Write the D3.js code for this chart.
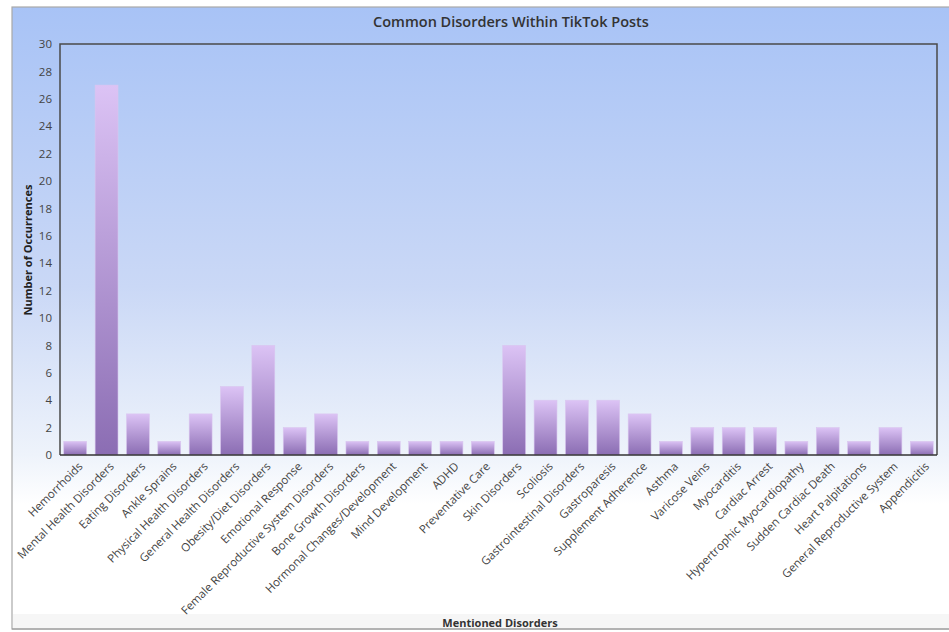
<!DOCTYPE html>
<html>
<head>
<meta charset="utf-8">
<script src="https://cdn.jsdelivr.net/npm/d3@7"></script>
<style>
  body { margin: 0; background: #fff; }
  svg text { font-family: "Open Sans", "Noto Sans", sans-serif; }
</style>
</head>
<body>
<div class="chart"></div>
<script>
// chart data
var disorders = ["Hemorrhoids", "Mental Health Disorders", "Eating Disorders", "Ankle Sprains",
  "Physical Health Disorders", "General Health Disorders", "Obesity/Diet Disorders", "Emotional Response",
  "Female Reproductive System Disorders", "Bone Growth Disorders", "Hormonal Changes/Development",
  "Mind Development", "ADHD", "Preventative Care", "Skin Disorders", "Scoliosis",
  "Gastrointestinal Disorders", "Gastroparesis", "Supplement Adherence", "Asthma", "Varicose Veins",
  "Myocarditis", "Cardiac Arrest", "Hypertrophic Myocardiopathy", "Sudden Cardiac Death",
  "Heart Palpitations", "General Reproductive System", "Appendicitis"];
var occurrences = [1, 27, 3, 1, 3, 5, 8, 2, 3, 1, 1, 1, 1, 1, 8, 4, 4, 4, 3, 1, 2, 2, 2, 1, 2, 1, 2, 1];
var yTicks = [0, 2, 4, 6, 8, 10, 12, 14, 16, 18, 20, 22, 24, 26, 28, 30];

var svgWidth = 949;
var svgHeight = 632;

var margin = { top: 44, right: 7, bottom: 177, left: 60 };
var width = svgWidth - margin.left - margin.right;
var height = svgHeight - margin.top - margin.bottom;

var svg = d3.select(".chart")
  .append("svg")
  .attr("width", svgWidth)
  .attr("height", svgHeight);

var defs = svg.append("defs");

// panel background
var bg = defs.append("linearGradient")
  .attr("id", "bgGrad")
  .attr("x1", 0).attr("y1", 0).attr("x2", 0).attr("y2", 1);
bg.append("stop").attr("offset", "0%").attr("stop-color", "#a8c3f6");
bg.append("stop").attr("offset", "45%").attr("stop-color", "#cad8f6");
bg.append("stop").attr("offset", "72%").attr("stop-color", "#eef3fb");
bg.append("stop").attr("offset", "80%").attr("stop-color", "#ffffff");
bg.append("stop").attr("offset", "100%").attr("stop-color", "#ffffff");

var barGrad = defs.append("linearGradient")
  .attr("id", "barGrad")
  .attr("x1", 0).attr("y1", 0).attr("x2", 0).attr("y2", 1);
barGrad.append("stop").attr("offset", "0%").attr("stop-color", "#dcc3f5");
barGrad.append("stop").attr("offset", "100%").attr("stop-color", "#8b6db3");

svg.append("rect")
  .attr("x", 12).attr("y", 7)
  .attr("width", 940).attr("height", 622)
  .attr("fill", "url(#bgGrad)")
  .attr("stroke", "#a9a9a9")
  .attr("stroke-width", 1.2);

svg.append("rect")
  .attr("x", 13).attr("y", 614)
  .attr("width", 938).attr("height", 14)
  .attr("fill", "#f6f6f6");

// title
svg.append("text")
  .attr("x", 511)
  .attr("y", 27)
  .attr("text-anchor", "middle")
  .style("font-size", "14.5px")
  .style("font-weight", "600")
  .style("fill", "#333")
  .text("Common Disorders Within TikTok Posts");

var chartGroup = svg.append("g")
  .attr("transform", `translate(${margin.left}, ${margin.top})`);

var xBandScale = d3.scaleBand()
  .domain(disorders)
  .range([0, width - 5])
  .paddingInner(0.27)
  .paddingOuter(0.12);

var yLinearScale = d3.scaleLinear()
  .domain([0, 30])
  .range([height, 0]);

// bars
chartGroup.selectAll(".bar")
  .data(occurrences)
  .enter()
  .append("rect")
  .attr("class", "bar")
  .attr("x", (d, i) => xBandScale(disorders[i]))
  .attr("y", d => yLinearScale(d))
  .attr("width", xBandScale.bandwidth())
  .attr("height", d => height - yLinearScale(d))
  .attr("fill", "url(#barGrad)")
  .attr("stroke", "#d9c6ef")
  .attr("stroke-width", 0.6);

// frame
chartGroup.append("path")
  .attr("d", `M0,${height}V0H${width - 5}V${height}`)
  .attr("fill", "none")
  .attr("stroke", "#4a4a4a")
  .attr("stroke-width", 1.5);
chartGroup.append("line")
  .attr("x1", 0).attr("x2", width - 5)
  .attr("y1", height).attr("y2", height)
  .attr("stroke", "#333")
  .attr("stroke-width", 1.5);

// y axis
var leftAxis = d3.axisLeft(yLinearScale)
  .tickValues(yTicks)
  .tickSize(0)
  .tickPadding(8);
var yAxis = chartGroup.append("g").call(leftAxis);
yAxis.select(".domain").remove();
yAxis.selectAll("text")
  .style("font-size", "11.5px")
  .style("fill", "#444");

// x axis
var bottomAxis = d3.axisBottom(xBandScale).tickSize(0);
var xAxis = chartGroup.append("g")
  .attr("transform", `translate(0, ${height})`)
  .call(bottomAxis);
xAxis.select(".domain").remove();
xAxis.selectAll("text")
  .attr("text-anchor", "end")
  .attr("dy", "0")
  .attr("transform", "translate(6, 10) rotate(-45)")
  .style("font-size", "11.5px")
  .style("fill", "#444");

// axis titles
svg.append("text")
  .attr("transform", "rotate(-90)")
  .attr("x", -250)
  .attr("y", 32)
  .attr("text-anchor", "middle")
  .style("font-size", "11px")
  .style("font-weight", "bold")
  .style("fill", "#222")
  .text("Number of Occurrences");

svg.append("text")
  .attr("x", 500)
  .attr("y", 627)
  .attr("text-anchor", "middle")
  .style("font-size", "11px")
  .style("font-weight", "bold")
  .style("fill", "#333")
  .text("Mentioned Disorders");

svg.append("line")
  .attr("x1", 12).attr("x2", 952)
  .attr("y1", 629).attr("y2", 629)
  .attr("stroke", "#999")
  .attr("stroke-width", 1.2);
</script>
</body>
</html>
